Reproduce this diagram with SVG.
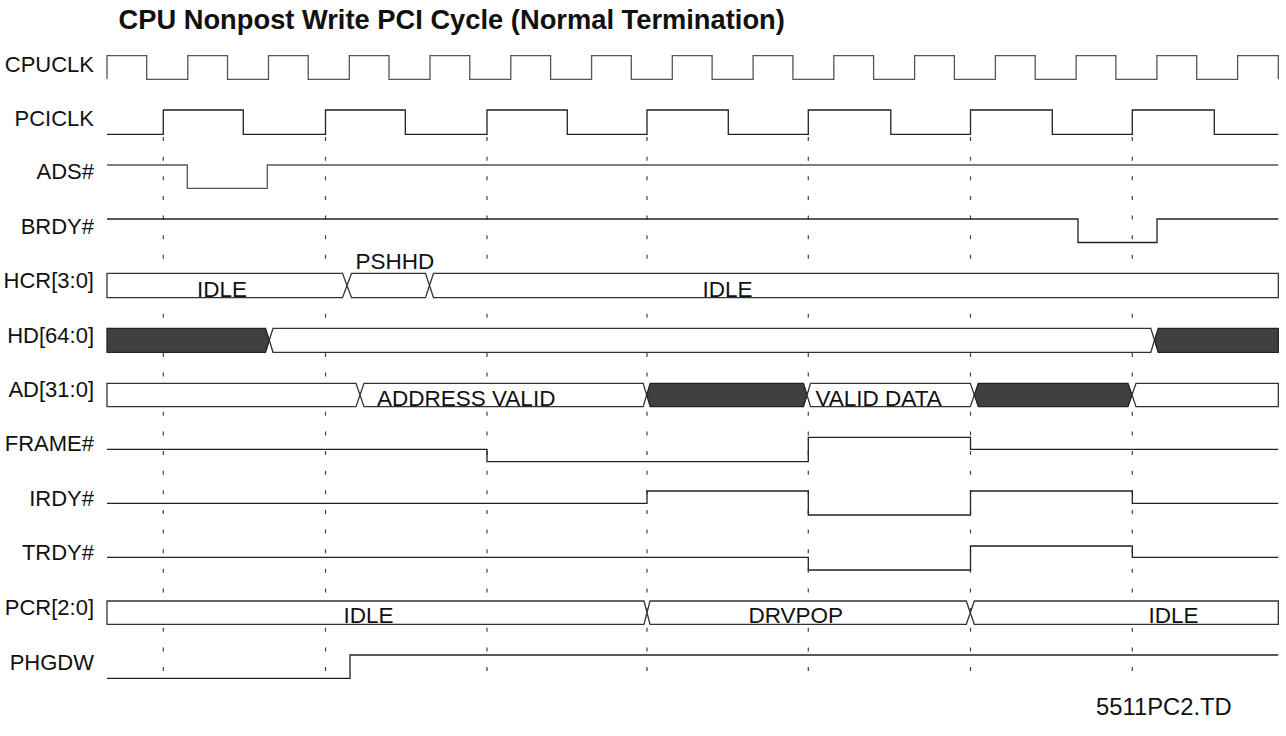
<svg xmlns="http://www.w3.org/2000/svg" width="1286" height="736" viewBox="0 0 1286 736">
<style>
text{font-family:"Liberation Sans",Arial,sans-serif;font-size:22.5px;fill:#111}
.lbl{text-anchor:end;font-size:22px}
.title{font-weight:bold;font-size:27.3px}
.foot{font-size:23.8px}
.sig{fill:none;stroke:#222;stroke-width:1.3}
.clk{fill:none;stroke:#555;stroke-width:1.3}
.bus{fill:#fff;stroke:#333;stroke-width:1.3}
.dark{fill:#404040;stroke:#222;stroke-width:1.3}
.guide{stroke:#444;stroke-width:1.2;stroke-dasharray:4 15.63}
</style>
<rect width="1286" height="736" fill="#fff"/>
<text class="title" x="118.5" y="29">CPU Nonpost Write PCI Cycle (Normal Termination)</text>

<g id="guides">
<line class="guide" x1="163.3" y1="137" x2="163.3" y2="672"/>
<line class="guide" x1="325.5" y1="137" x2="325.5" y2="672"/>
<line class="guide" x1="487" y1="137" x2="487" y2="672"/>
<line class="guide" x1="647" y1="137" x2="647" y2="672"/>
<line class="guide" x1="808.3" y1="137" x2="808.3" y2="672"/>
<line class="guide" x1="970.5" y1="137" x2="970.5" y2="672"/>
<line class="guide" x1="1132.3" y1="137" x2="1132.3" y2="672"/>
</g>

<g id="cpuclk">
<text class="lbl" x="94" y="72">CPUCLK</text>
<path class="clk" d="M107,79.3 V55.7 H146.7 V79.3 H187.8 V55.7 H227.5 V79.3 H268.5 V55.7 H308.2 V79.3 H349.3 V55.7 H389 V79.3 H430 V55.7 H469.8 V79.3 H510.8 V55.7 H550.6 V79.3 H591.6 V55.7 H631.3 V79.3 H672.3 V55.7 H712.1 V79.3 H753.1 V55.7 H792.9 V79.3 H833.8 V55.7 H873.6 V79.3 H914.6 V55.7 H954.4 V79.3 H995.4 V55.7 H1035.2 V79.3 H1076.1 V55.7 H1115.9 V79.3 H1156.9 V55.7 H1196.7 V79.3 H1237.6 V55.7 H1278.3 V79.3"/>
</g>

<g id="pciclk">
<text class="lbl" x="94" y="125.5">PCICLK</text>
<path class="sig" d="M107,134.3 H163.3 V110 H243.3 V134.3 H325.5 V110 H405.3 V134.3 H487 V110 H567.3 V134.3 H647 V110 H728.3 V134.3 H808.3 V110 H890.8 V134.3 H970.5 V110 H1052.3 V134.3 H1132.3 V110 H1214.3 V134.3 H1278.3"/>
</g>

<g id="ads">
<text class="lbl" x="94" y="179.3">ADS#</text>
<path class="clk" d="M107,165 H187.3 V188.3 H267.3 V165 H1278.3"/>
</g>

<g id="brdy">
<text class="lbl" x="94" y="233.8">BRDY#</text>
<path class="sig" d="M107,219 H1078 V242.5 H1157 V219 H1278.3"/>
</g>

<g id="hcr">
<text class="lbl" x="94" y="288.3">HCR[3:0]</text>
<path class="bus" d="M107,273.3 H342.5 L347,285.5 L342.5,297.7 H107 Z"/>
<path class="bus" d="M347,285.5 L351.5,273.3 H425.5 L429.5,285.5 L425.5,297.7 H351.5 Z"/>
<path class="bus" d="M429.5,285.5 L433.5,273.3 H1278.3 V297.7 H433.5 Z"/>
<text x="197" y="297">IDLE</text>
<text x="355.5" y="269.3">PSHHD</text>
<text x="702.5" y="297">IDLE</text>
</g>

<g id="hd">
<text class="lbl" x="94" y="342.8">HD[64:0]</text>
<path class="dark" d="M107,328.3 H265.5 L269.3,340.3 L265.5,352.3 H107 Z"/>
<path class="bus" d="M269.3,340.3 L273,328.3 H1150.8 L1154.5,340.3 L1150.8,352.3 H273 Z"/>
<path class="dark" d="M1154.5,340.3 L1158.2,328.3 H1278.3 V352.3 H1158.2 Z"/>
</g>

<g id="ad">
<text class="lbl" x="94" y="397.3">AD[31:0]</text>
<path class="bus" d="M107,383.3 H356 L360,395 L356,406.7 H107 Z"/>
<path class="bus" d="M360,395 L364,383.3 H643.2 L646.7,395 L643.2,406.7 H364 Z"/>
<path class="dark" d="M646.7,395 L650.2,383.3 H803.5 L807,395 L803.5,406.7 H650.2 Z"/>
<path class="bus" d="M807,395 L810.5,383.3 H970.3 L974.3,395 L970.3,406.7 H810.5 Z"/>
<path class="dark" d="M974.3,395 L978.3,383.3 H1128 L1132,395 L1128,406.7 H978.3 Z"/>
<path class="bus" d="M1132,395 L1136,383.3 H1278.3 V406.7 H1136 Z"/>
<text x="377" y="405.8">ADDRESS VALID</text>
<text x="815.5" y="405.8">VALID DATA</text>
</g>

<g id="frame">
<text class="lbl" x="94" y="450.5">FRAME#</text>
<path class="sig" d="M107,449.3 H487 V461.7 H808.3 V437.3 H970.5 V449.3 H1278.3"/>
</g>

<g id="irdy">
<text class="lbl" x="94" y="505.5">IRDY#</text>
<path class="sig" d="M107,503.3 H647 V491 H808.3 V515 H970.5 V491 H1132.3 V503.3 H1278.3"/>
</g>

<g id="trdy">
<text class="lbl" x="94" y="560.3">TRDY#</text>
<path class="sig" d="M107,557.3 H808.3 V570 H970.5 V546 H1132.3 V557.3 H1278.3"/>
</g>

<g id="pcr">
<text class="lbl" x="94" y="615.3">PCR[2:0]</text>
<path class="bus" d="M107,601 H644 L647,612.7 L644,624.3 H107 Z"/>
<path class="bus" d="M647,612.7 L650,601 H966.3 L970.3,612.7 L966.3,624.3 H650 Z"/>
<path class="bus" d="M970.3,612.7 L974.3,601 H1278.3 V624.3 H974.3 Z"/>
<text x="343.5" y="622.8">IDLE</text>
<text x="748.5" y="622.8">DRVPOP</text>
<text x="1148.5" y="622.8">IDLE</text>
</g>

<g id="phgdw">
<text class="lbl" x="94" y="669.8">PHGDW</text>
<path class="sig" d="M107,678.3 H350 V655 H1278.3"/>
</g>

<text class="foot" x="1096" y="715">5511PC2.TD</text>
</svg>
